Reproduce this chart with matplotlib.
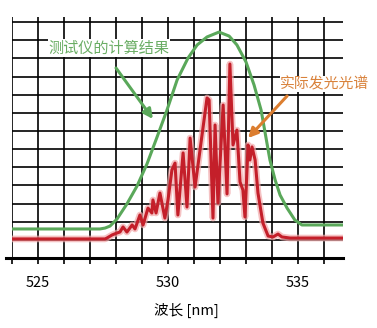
import numpy as np
import matplotlib
matplotlib.use('Agg')
import matplotlib.pyplot as plt

plt.rcParams['font.family'] = ['Noto Sans CJK SC', 'DejaVu Sans']

# Simulated result of the tester (green) and the measured emission spectrum (red)
calc_nm = [524.00, 527.38, 527.58, 527.77, 528.04, 528.42, 528.81, 529.19, 529.58,
           529.96, 530.35, 530.77, 531.12, 531.50, 531.96, 532.35, 532.65, 533.00,
           533.31, 533.58, 533.73, 533.92, 534.12, 534.31, 534.58, 534.88, 535.15, 536.73]
calc_val = [1.60, 1.60, 1.65, 1.76, 2.15, 2.98, 3.97, 5.18, 6.67,
            8.15, 9.81, 11.02, 11.74, 12.18, 12.45, 12.23, 11.74, 10.80,
            9.53, 8.15, 6.94, 5.40, 4.30, 3.47, 2.75, 2.09, 1.82, 1.82]

spec_nm = [524.00, 527.58, 527.65, 527.85, 528.04, 528.15, 528.27, 528.42, 528.62,
           528.73, 528.92, 529.04, 529.23, 529.38, 529.42, 529.54, 529.69, 529.88,
           530.00, 530.15, 530.27, 530.38, 530.58, 530.73, 530.85, 531.04, 531.50,
           531.58, 531.73, 531.81, 531.92, 532.12, 532.27, 532.38, 532.50, 532.65,
           532.77, 532.88, 532.96, 533.08, 533.15, 533.23, 533.35, 533.46, 533.65,
           533.85, 534.04, 534.23, 534.38, 534.69, 536.73]
spec_val = [1.05, 1.05, 1.10, 1.27, 1.38, 1.43, 1.71, 1.43, 1.82,
            1.60, 2.37, 1.82, 2.75, 2.48, 3.20, 2.48, 3.58, 2.20,
            3.20, 4.85, 5.23, 2.37, 5.79, 2.81, 6.61, 3.91, 8.82,
            8.71, 2.20, 7.33, 3.03, 8.43, 3.53, 10.69, 6.23, 7.05,
            4.19, 3.75, 2.26, 6.23, 5.40, 6.12, 5.40, 3.58, 1.93,
            1.21, 1.16, 1.32, 1.16, 1.10, 1.10]

major_ticks = [525, 530, 535]
major_labels = ['525', '530', '535']
minor_ticks = np.arange(524, 537)
h_lines = np.arange(1, 14)

green = '#5aa85a'
red = '#c41f2a'

fig = plt.figure(figsize=(3.77, 3.28), dpi=100)
ax = fig.add_axes([12 / 377, 1 - 258 / 328, 331 / 377, 241 / 328])
ax.set_xlim(524, 536.73)
ax.set_ylim(0, 13.28)

for s in ax.spines.values():
    s.set_visible(False)

ax.set_xticks(major_ticks)
ax.set_xticklabels(major_labels, fontsize=10.5)
ax.set_xticks(minor_ticks, minor=True)
ax.set_yticks(h_lines)
ax.tick_params(axis='x', which='both', direction='out', length=4.3, width=1.2,
               color='black', pad=8.5)
ax.tick_params(axis='y', which='both', length=0, labelleft=False)
ax.grid(True, which='both', color='black', lw=1.2)
ax.set_axisbelow(True)

# thick bottom axis, a bit longer than the grid on the left
ax.plot([523.77, 536.73], [0, 0], color='black', lw=2.2, clip_on=False, zorder=3)

# red spectrum with a soft halo
ax.plot(spec_nm, spec_val, color='#f2a8aa', lw=4.8, alpha=0.7, zorder=2,
        solid_joinstyle='round')
ax.plot(spec_nm, spec_val, color=red, lw=2.2, zorder=2.5, solid_joinstyle='round')

ax.plot(calc_nm, calc_val, color=green, lw=2.2, zorder=2.6)

# annotations (white box hides the grid behind the text)
box = dict(facecolor='white', edgecolor='none', pad=0.5)
ax.text(527.73, 11.57, '测试仪的计算结果', color='#6aad64', fontsize=10.9,
        ha='center', va='center', bbox=box, zorder=4)
ax.annotate('', xy=(529.42, 7.66), xytext=(528.0, 10.47),
            arrowprops=dict(arrowstyle='-|>', color='#5aa85a', lw=2.2,
                            mutation_scale=14, shrinkA=0, shrinkB=0))
ax.text(536.04, 9.59, '实际发光光谱', color='#d9823b', fontsize=10.7,
        ha='center', va='center', bbox=box, zorder=4)
ax.annotate('', xy=(533.08, 6.61), xytext=(534.58, 8.93),
            arrowprops=dict(arrowstyle='-|>', color='#dc7e30', lw=2.2,
                            mutation_scale=14, shrinkA=0, shrinkB=0))

fig.text(186 / 377, 1 - 310 / 328, '波长 [nm]', fontsize=10.5, ha='center', va='center')

fig.savefig('out.png', dpi=100)
